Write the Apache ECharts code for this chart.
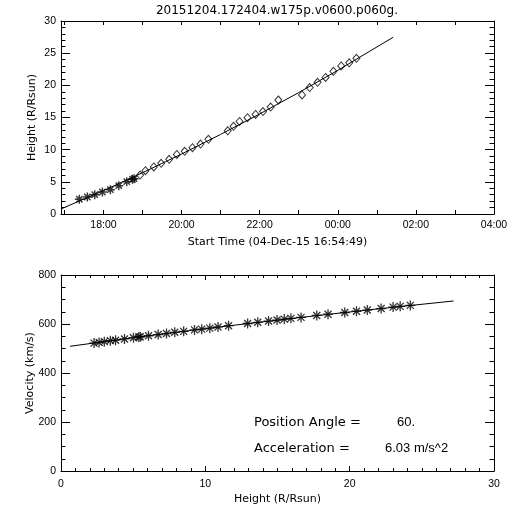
<!DOCTYPE html>
<html>
<head>
<meta charset="utf-8">
<script src="https://cdn.jsdelivr.net/npm/echarts@6/dist/echarts.min.js"></script>
<style>html,body{margin:0;padding:0;background:#fff}#c{width:512px;height:512px}</style>
</head>
<body>
<div id="c"></div>
<script>
// ---- Data ----
const titleText = '20151204.172404.w175p.v0600.p060g.';
const startHour = 16.9136; // 16:54:49
const endHour = 28; // 04:00 next day
const timeTickHours = [17,18,19,20,21,22,23,24,25,26,27,28];
const timeLabelHours = [18,20,22,24,26,28];

// C2 points (asterisks): time (hours of 04-Dec, >24 = next day) and height (R/Rsun)
const starTimes = [17.383,17.588,17.778,17.973,18.178,18.393,18.598,18.742,18.785];
const starHeights = [2.29,2.64,3.00,3.42,3.78,4.40,5.02,5.39,5.49];
// C3 points (diamonds)
const diamondTimes = [18.939,19.075,19.290,19.478,19.683,19.880,20.080,20.280,20.485,20.688,
  21.183,21.332,21.485,21.688,21.896,22.085,22.280,22.478,23.085,23.280,23.483,23.688,23.888,24.088,24.293,24.478];
const diamondHeights = [6.06,6.73,7.31,7.88,8.50,9.25,9.75,10.31,10.88,11.61,
  12.93,13.63,14.38,14.97,15.47,15.93,16.63,17.72,18.50,19.66,20.47,21.22,22.18,23.01,23.50,24.20];
// Height-time fit line
const fitTimes = [16.914,18,19,20,21,22,23,24,25.42];
const fitHeights = [0.78,3.64,6.41,9.32,12.37,15.55,18.87,22.33,27.48];

// Velocity panel: velocities at each point's height
const velHeights = starHeights.concat(diamondHeights);
const velValues = [522,525,528,532,534,539,544,547,548,552,557,561,566,570,576,579,583,588,593,
  602,607,612,616,620,623,627,635,640,647,652,657,663,669,672,676];
// Velocity fit line
const vFitHeights = [0.62,3,6,10,14,18,22,27.2];
const vFitValues = [509,528,552,581,609,636,662,694];

const positionAngle = '60.';
const acceleration = '6.03 m/s^2';

// ---- Chart ----
const font = 'DejaVu Sans';
const asterisk = 'path://M5,0L5,10M0,5L10,5M1.5,1.5L8.5,8.5M1.5,8.5L8.5,1.5';
const pairs = (xs, ys) => xs.map((x, i) => [x, ys[i]]);
const fmtHour = v => String(Math.round(v) % 24).padStart(2, '0') + ':00';

const lineStyle = {color: '#000', width: 1};
const labelStyle = {color: '#000', fontFamily: 'Liberation Sans', fontSize: 10.5};
const nameStyle = {color: '#000', fontFamily: font, fontSize: 11};

function xAx(grid, pos, extra) {
  return Object.assign({
    gridIndex: grid, position: pos, type: 'value',
    axisLine: {show: true, onZero: false, lineStyle},
    splitLine: {show: false},
    axisLabel: {show: false},
  }, extra);
}

const chart = echarts.init(document.getElementById('c'), null, {renderer: 'canvas'});
const timeTick = {show: true, inside: true, length: 4, lineStyle, customValues: timeTickHours};
const option = {
  animation: false,
  backgroundColor: '#fff',
  grid: [
    {left: 61, top: 21, width: 433, height: 193},
    {left: 61, top: 275, width: 433, height: 196}
  ],
  xAxis: [
    xAx(0, 'bottom', {min: startHour, max: endHour,
      axisTick: timeTick,
      axisLabel: Object.assign({show: true, margin: 6, customValues: timeLabelHours, formatter: fmtHour}, labelStyle),
      name: 'Start Time (04-Dec-15 16:54:49)', nameLocation: 'middle', nameGap: 23, nameMoveOverlap: false, nameTextStyle: nameStyle}),
    xAx(0, 'top', {min: startHour, max: endHour, axisTick: timeTick}),
    xAx(1, 'bottom', {min: 0, max: 30, interval: 10,
      axisTick: {show: true, inside: true, length: 5, lineStyle},
      minorTick: {show: true, splitNumber: 10, length: 3, lineStyle},
      axisLabel: Object.assign({show: true, margin: 8}, labelStyle),
      name: 'Height (R/Rsun)', nameLocation: 'middle', nameGap: 23, nameMoveOverlap: false, nameTextStyle: nameStyle}),
    xAx(1, 'top', {min: 0, max: 30, interval: 10,
      axisTick: {show: true, inside: true, length: 5, lineStyle},
      minorTick: {show: true, splitNumber: 10, length: 3, lineStyle}})
  ],
  yAxis: [
    xAx(0, 'left', {min: 0, max: 30, interval: 5,
      axisTick: {show: true, inside: true, length: 9, lineStyle},
      minorTick: {show: true, splitNumber: 5, length: 4.5, lineStyle},
      axisLabel: Object.assign({show: true, margin: 5}, labelStyle),
      name: 'Height (R/Rsun)', nameLocation: 'middle', nameGap: 23, nameMoveOverlap: false, nameRotate: 90, nameTextStyle: nameStyle}),
    xAx(0, 'right', {min: 0, max: 30, interval: 5,
      axisTick: {show: true, inside: true, length: 9, lineStyle},
      minorTick: {show: true, splitNumber: 5, length: 4.5, lineStyle}}),
    xAx(1, 'left', {min: 0, max: 800, interval: 200,
      axisTick: {show: true, inside: true, length: 9, lineStyle},
      minorTick: {show: true, splitNumber: 4, length: 4.5, lineStyle},
      axisLabel: Object.assign({show: true, margin: 5}, labelStyle),
      name: 'Velocity (km/s)', nameLocation: 'middle', nameGap: 25, nameMoveOverlap: false, nameRotate: 90, nameTextStyle: nameStyle}),
    xAx(1, 'right', {min: 0, max: 800, interval: 200,
      axisTick: {show: true, inside: true, length: 9, lineStyle},
      minorTick: {show: true, splitNumber: 4, length: 4.5, lineStyle}})
  ],
  series: [
    {type: 'line', xAxisIndex: 0, yAxisIndex: 0, data: pairs(fitTimes, fitHeights),
      showSymbol: false, symbol: 'none', lineStyle: {color: '#000', width: 1}, z: 2},
    {type: 'scatter', xAxisIndex: 0, yAxisIndex: 0, data: pairs(starTimes, starHeights),
      symbol: asterisk, symbolSize: 9,
      itemStyle: {color: '#000', borderColor: '#000', borderWidth: 1.4}, z: 3},
    {type: 'scatter', xAxisIndex: 0, yAxisIndex: 0, data: pairs(diamondTimes, diamondHeights),
      symbol: 'diamond', symbolSize: [7, 8],
      itemStyle: {color: 'rgba(0,0,0,0)', borderColor: '#000', borderWidth: 1}, z: 3},
    {type: 'line', xAxisIndex: 2, yAxisIndex: 2, data: pairs(vFitHeights, vFitValues),
      showSymbol: false, symbol: 'none', lineStyle: {color: '#000', width: 1}, z: 2},
    {type: 'scatter', xAxisIndex: 2, yAxisIndex: 2, data: pairs(velHeights, velValues),
      symbol: asterisk, symbolSize: 10,
      itemStyle: {color: '#000', borderColor: '#000', borderWidth: 1.3}, z: 3}
  ],
  graphic: [
    {type: 'text', x: 277, y: 5, style: {text: titleText, fill: '#000', font: '12px "DejaVu Sans"', textAlign: 'center'}},
    {type: 'text', x: 254, y: 416, style: {text: 'Position Angle =', fill: '#000', font: '13px "DejaVu Sans"'}},
    {type: 'text', x: 397, y: 416, style: {text: positionAngle, fill: '#000', font: '13px "Liberation Sans"'}},
    {type: 'text', x: 254, y: 442, style: {text: 'Acceleration =', fill: '#000', font: '13px "DejaVu Sans"'}},
    {type: 'text', x: 385, y: 442, style: {text: acceleration, fill: '#000', font: '13px "Liberation Sans"'}}
  ]
};
chart.setOption(option);
</script>
</body>
</html>
